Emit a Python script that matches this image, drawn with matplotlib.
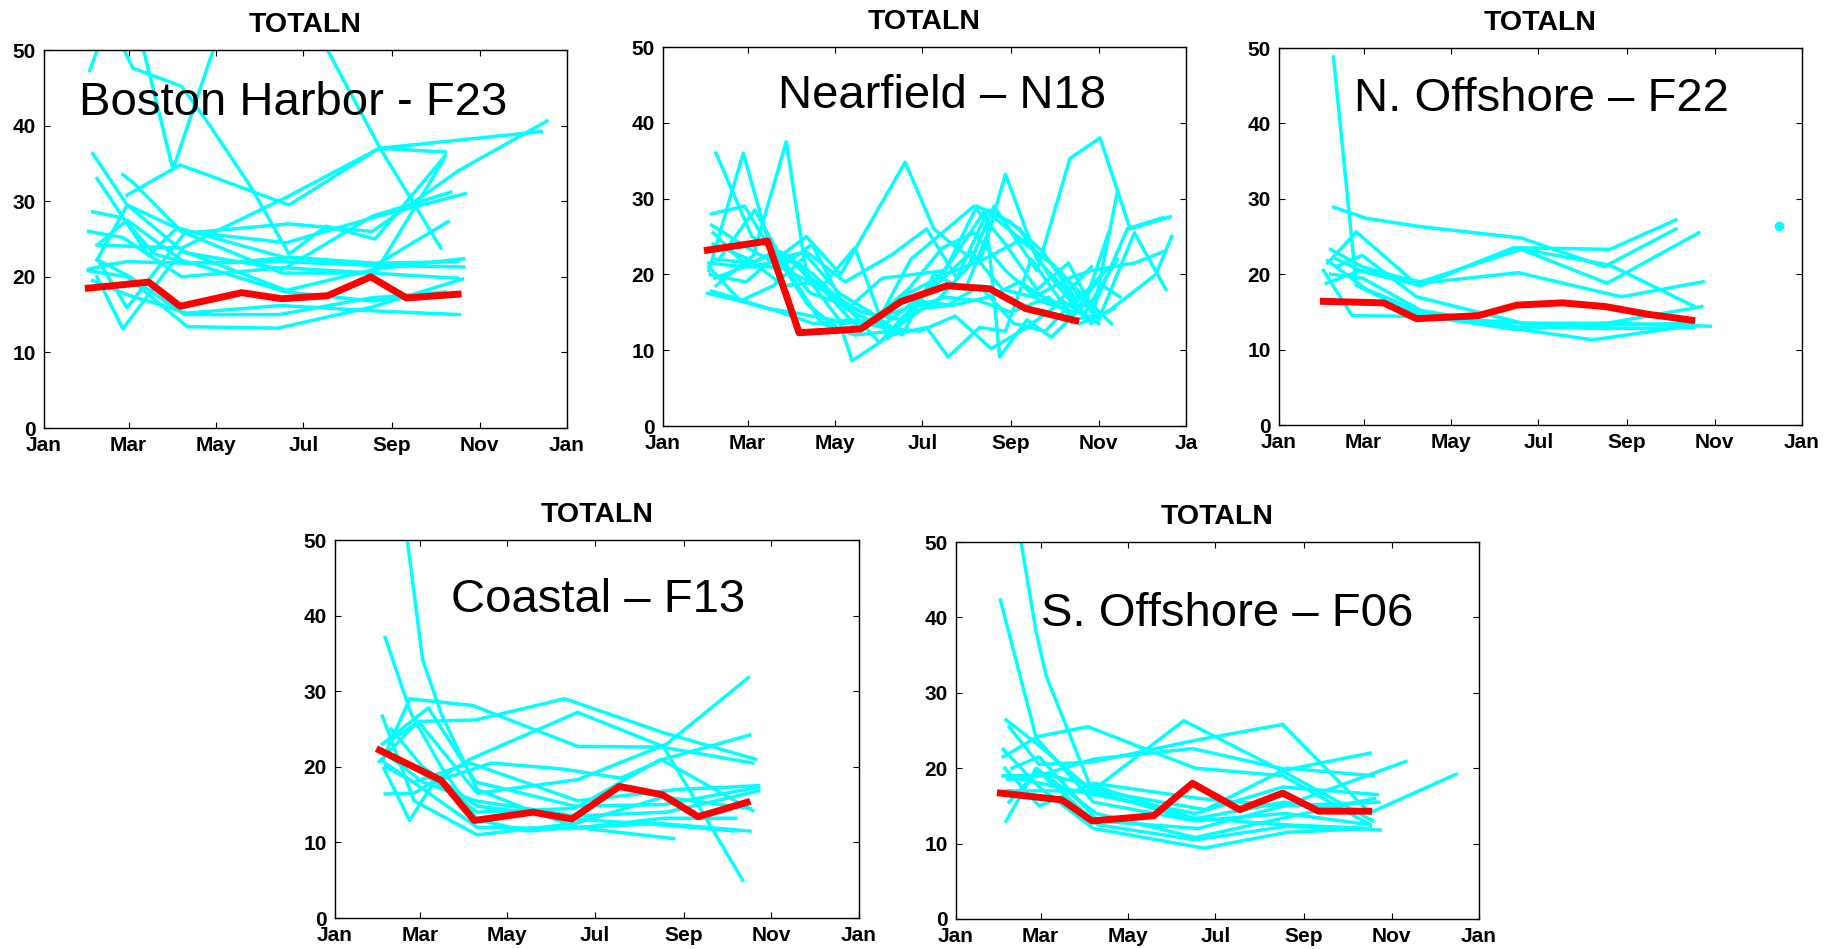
import matplotlib

matplotlib.use("Agg")
import matplotlib.pyplot as plt

plt.rcParams["font.family"] = ["Liberation Sans", "DejaVu Sans"]

MONTH_DAYS = [1, 60, 121, 182, 244, 305, 366]
MONTH_LABELS = ["Jan", "Mar", "May", "Jul", "Sep", "Nov", "Jan"]
Y_TICKS = [0, 10, 20, 30, 40, 50]

# ---- Boston Harbor - F23 ----
harbor_mean_days = [32, 74, 96, 139, 167, 199, 229, 254, 290]
harbor_mean = [18.5, 19.3, 16.1, 17.9, 17.1, 17.5, 20.0, 17.2, 17.7]
harbor_years = [
    ([33, 42, 52, 63, 97, 115, 145, 172, 198, 232, 281],
     [47.3, 52, 52, 47.6, 45.2, 40.5, 32.0, 23.0, 26.7, 25.0, 36.0]),
    ([64, 91, 128], [55, 34.2, 55]),
    ([196, 235, 278], [51, 37.2, 23.8]),
    ([59, 96, 172, 235, 281], [30.8, 34.8, 29.5, 37.0, 36.5]),
    ([38, 97, 170, 235, 348], [24.2, 23.8, 30.5, 37.0, 39.2]),
    ([38, 59, 101, 172, 230, 290, 352], [22.2, 29.5, 25.8, 27.0, 26.0, 34.0, 40.6]),
    ([35, 59, 99, 168, 230, 285], [36.3, 29.5, 23.2, 21.0, 28.0, 31.2]),
    ([38, 74, 94, 168, 233, 283], [33.0, 22.8, 26.5, 22.6, 21.6, 27.3]),
    ([35, 56, 78, 102, 140, 172, 232, 290], [28.6, 27.8, 23.0, 21.8, 22.0, 22.6, 21.8, 22.0]),
    ([32, 56, 97, 168, 230, 290], [26.0, 25.2, 20.0, 21.2, 20.5, 19.8]),
    ([32, 46, 59, 99, 168, 232, 294], [21.0, 21.6, 22.0, 21.8, 22.0, 21.5, 21.3]),
    ([38, 56, 97, 170, 232, 294], [20.0, 13.1, 23.5, 18.2, 21.0, 22.4]),
    ([40, 59, 100, 170, 234, 295], [21.8, 15.9, 26.0, 24.5, 28.0, 31.0]),
    ([38, 61, 99, 165, 229, 281], [22.3, 20.0, 15.0, 15.0, 17.2, 18.0]),
    ([32, 59, 101, 164, 230, 293], [20.8, 20.0, 13.4, 13.2, 16.0, 19.7]),
    ([35, 61, 101, 166, 230, 291], [19.5, 17.5, 15.2, 16.2, 15.5, 15.0]),
    ([40, 59, 97, 170, 230, 290], [24.5, 27.5, 22.2, 18.0, 16.8, 17.8]),
    ([56, 63, 97, 167, 232, 280], [33.5, 32.5, 26.0, 20.5, 20.5, 35.5]),
]

# ---- Nearfield - N18 ----
near_mean_days = [32, 74, 96, 139, 167, 199, 229, 254, 289]
near_mean = [23.2, 24.4, 12.3, 12.8, 16.4, 18.5, 18.1, 15.5, 13.9]
near_years = [
    ([38, 63, 96, 125, 150, 172, 198, 225, 250, 272, 300],
     [36.0, 25.0, 21.0, 16.0, 14.5, 17.5, 20.0, 22.0, 24.5, 21.5, 16.0]),
    ([33, 57, 78, 101, 128, 160, 185, 206, 228, 250, 270, 294, 318],
     [20.5, 36.0, 22.0, 23.0, 19.0, 22.5, 26.0, 19.5, 28.5, 26.0, 20.0, 14.5, 22.0]),
    ([38, 64, 87, 102, 122, 140, 168, 192, 214, 232, 262, 285, 306, 327, 355],
     [18.5, 22.5, 37.5, 19.0, 17.0, 15.0, 14.0, 16.5, 21.0, 29.0, 20.5, 35.3, 38.0, 26.0, 27.6]),
    ([35, 58, 80, 101, 125, 170, 190, 206, 222, 240, 262, 282, 300, 318],
     [28.0, 29.0, 22.0, 25.0, 20.0, 34.8, 26.0, 23.5, 21.5, 33.2, 22.0, 18.0, 13.5, 30.8]),
    ([33, 55, 74, 97, 124, 133, 160, 185, 200, 222, 240, 258, 288, 311, 345, 356],
     [21.0, 16.5, 15.5, 14.8, 13.8, 8.6, 12.0, 13.0, 9.1, 13.0, 12.5, 22.0, 14.0, 15.0, 20.0, 25.0]),
    ([36, 60, 90, 110, 135, 158, 180, 203, 226, 236, 255, 272, 295, 312],
     [25.5, 21.0, 22.0, 18.0, 23.5, 11.5, 16.5, 22.0, 28.5, 9.1, 14.0, 11.7, 16.0, 25.5]),
    ([32, 55, 78, 101, 124, 146, 168, 190, 212, 232, 255, 278, 300, 325, 350],
     [17.5, 16.5, 18.5, 22.5, 17.5, 15.0, 12.0, 20.0, 18.0, 27.5, 24.0, 20.5, 15.0, 26.0, 27.5]),
    ([35, 60, 84, 105, 128, 150, 174, 196, 218, 240, 262, 284, 305, 330, 352],
     [26.5, 23.5, 21.0, 24.0, 15.5, 13.5, 22.0, 25.5, 29.0, 24.0, 18.0, 21.5, 14.0, 25.5, 18.0]),
    ([38, 62, 83, 106, 130, 154, 176, 198, 220, 243, 266, 290, 310],
     [22.0, 21.5, 23.0, 20.0, 15.5, 19.5, 20.0, 20.5, 29.0, 27.0, 23.0, 16.5, 20.5]),
    ([34, 59, 80, 102, 126, 150, 172, 196, 218, 240, 264, 288, 304, 320],
     [20.0, 19.0, 22.5, 16.0, 12.5, 14.5, 18.0, 23.5, 25.5, 20.5, 16.5, 15.0, 19.0, 17.0]),
    ([36, 61, 85, 108, 132, 156, 178, 200, 222, 246, 268, 292, 314],
     [24.0, 22.0, 18.5, 19.0, 14.0, 13.5, 16.5, 16.0, 18.5, 13.5, 12.5, 17.5, 13.5]),
    ([33, 57, 79, 104, 128, 152, 174, 198, 222, 244, 270, 292, 316],
     [21.5, 21.0, 23.0, 17.5, 16.0, 11.0, 15.5, 17.0, 16.5, 15.0, 17.0, 13.5, 15.5]),
    ([37, 58, 82, 104, 126, 148, 170, 194, 216, 238, 260, 284, 300, 330, 350],
     [19.5, 21.0, 21.0, 19.0, 13.5, 14.0, 15.5, 19.0, 23.0, 18.0, 17.0, 19.5, 20.5, 21.5, 23.0]),
    ([35, 58, 83, 106, 130, 155, 180, 205, 230, 255, 280, 305],
     [17.8, 16.5, 15.0, 13.5, 14.0, 13.0, 12.5, 14.5, 10.2, 13.0, 16.5, 13.5]),
    ([40, 65, 90, 112, 135, 160, 182, 205, 228, 250, 275, 300],
     [22.0, 28.5, 20.0, 13.5, 12.0, 12.5, 15.5, 16.0, 17.0, 19.0, 16.0, 21.0]),
]

# ---- N. Offshore - F22 ----
north_mean_days = [32, 74, 97, 140, 167, 199, 229, 258, 289]
north_mean = [16.4, 16.2, 14.1, 14.5, 15.9, 16.2, 15.7, 14.7, 13.9]
north_years = [
    ([39, 55, 100, 165, 230, 296], [48.8, 18.5, 14.5, 12.7, 13.5, 15.7]),
    ([39, 62, 100, 170, 228, 278], [28.9, 27.4, 26.3, 24.8, 21.0, 26.0]),
    ([35, 55, 98, 165, 232, 278], [21.5, 25.6, 18.5, 23.5, 23.3, 27.2]),
    ([34, 58, 100, 170, 230, 294], [18.8, 20.5, 19.0, 23.3, 18.8, 25.5]),
    ([37, 59, 100, 168, 240, 297], [23.3, 21.0, 18.8, 20.2, 17.0, 19.0]),
    ([39, 60, 100, 165, 232, 290], [22.2, 20.3, 18.5, 23.5, 21.2, 15.8]),
    ([32, 52, 100, 171, 232, 302], [20.5, 14.5, 14.4, 13.5, 13.5, 13.1]),
    ([35, 62, 100, 165, 220, 290], [21.8, 18.0, 15.0, 12.8, 11.3, 13.2]),
    ([37, 59, 100, 168, 230, 290], [20.0, 19.5, 15.2, 13.0, 12.8, 12.9]),
    ([41, 59, 97, 171, 220, 290], [21.0, 22.5, 17.0, 13.5, 13.2, 13.5]),
]
north_dot_day = [350]
north_dot = [26.4]

# ---- Coastal - F13 ----
coastal_mean_days = [32, 75, 98, 139, 166, 199, 229, 254, 288]
coastal_mean = [22.2, 18.2, 12.9, 14.0, 13.1, 17.4, 16.3, 13.4, 15.3]
coastal_years = [
    ([50, 62, 75, 100, 140, 170, 228, 290], [52, 34.2, 27.0, 17.0, 14.0, 12.0, 12.5, 11.5]),
    ([36, 54, 75, 100, 135, 168, 237], [37.1, 27.0, 20.0, 13.0, 11.5, 12.0, 10.5]),
    ([34, 53, 97, 170, 230, 285], [20.8, 29.0, 28.1, 22.7, 22.6, 5.0]),
    ([38, 60, 99, 161, 230, 294], [23.3, 26.0, 26.2, 29.0, 24.5, 21.0]),
    ([36, 56, 95, 170, 232, 292], [16.4, 16.5, 21.0, 27.2, 22.5, 20.5]),
    ([32, 59, 100, 170, 232, 289], [20.7, 26.0, 16.5, 18.3, 23.0, 31.8]),
    ([35, 53, 70, 110, 160, 200, 230, 290], [19.8, 12.9, 18.0, 20.5, 19.7, 18.5, 21.0, 24.2]),
    ([34, 66, 99, 168, 230, 296], [23.0, 27.8, 18.0, 14.8, 15.0, 17.3]),
    ([38, 62, 99, 168, 232, 296], [21.5, 18.0, 15.5, 13.5, 14.0, 16.8]),
    ([34, 56, 100, 168, 230, 290], [26.7, 15.5, 11.0, 12.5, 16.0, 14.5]),
    ([36, 59, 100, 165, 230, 280], [20.5, 17.5, 12.0, 11.8, 13.2, 13.2]),
    ([34, 60, 100, 168, 228, 292], [22.0, 19.5, 14.0, 14.5, 21.0, 14.2]),
    ([40, 62, 100, 175, 230, 280], [25.0, 20.0, 14.8, 13.0, 12.3, 11.5]),
    ([36, 56, 95, 170, 240, 296], [20.0, 18.0, 20.5, 15.5, 17.0, 17.5]),
]

# ---- S. Offshore - F06 ----
south_mean_days = [32, 75, 96, 139, 166, 199, 229, 254, 289]
south_mean = [16.7, 15.8, 13.0, 13.7, 18.0, 14.5, 16.7, 14.3, 14.3]
south_years = [
    ([42, 57, 64, 96, 160, 230, 290], [55, 38, 32.2, 17.0, 13.5, 12.5, 12.0]),
    ([32, 57, 97, 168, 231, 290], [42.3, 24.0, 15.5, 13.0, 14.0, 12.5]),
    ([36, 59, 96, 160, 230, 292], [26.4, 23.0, 17.0, 26.3, 19.5, 13.0]),
    ([34, 58, 93, 168, 229, 290], [21.5, 24.2, 25.5, 20.0, 19.0, 12.5]),
    ([38, 59, 96, 168, 229, 290], [25.5, 20.5, 20.8, 23.7, 25.8, 14.0]),
    ([34, 59, 97, 166, 232, 290], [19.0, 19.0, 21.2, 22.6, 19.8, 22.0]),
    ([38, 57, 100, 168, 230, 290, 350], [15.5, 19.5, 17.5, 13.3, 15.5, 14.1, 19.2]),
    ([35, 59, 97, 170, 230, 315], [20.0, 15.0, 18.0, 16.0, 15.0, 20.9]),
    ([36, 57, 99, 168, 232, 293], [13.0, 20.0, 14.0, 10.8, 13.5, 16.0]),
    ([34, 59, 97, 174, 232, 290], [22.5, 17.5, 12.0, 9.4, 11.5, 12.0]),
    ([37, 62, 100, 168, 232, 297], [18.5, 19.0, 12.5, 10.5, 12.3, 11.8]),
    ([34, 60, 97, 168, 229, 295], [19.0, 18.0, 16.5, 14.0, 17.5, 16.5]),
    ([40, 59, 100, 170, 230, 296], [20.0, 21.5, 13.0, 12.0, 15.0, 15.5]),
    ([36, 60, 99, 175, 232, 292], [17.0, 17.0, 17.0, 14.5, 20.0, 19.0]),
]

FIG_W, FIG_H = 1843, 949
CYAN = "#00FFFF"
RED = "#FF0000"


def draw_panel(fig, box, station, label_xy, years, mean_days, mean_vals,
               last_label="Jan", dots=None):
    x0, y0, x1, y1 = box
    ax = fig.add_axes([x0 / FIG_W, 1 - y1 / FIG_H, (x1 - x0) / FIG_W, (y1 - y0) / FIG_H])
    for days, vals in years:
        ax.plot(days, vals, color=CYAN, linewidth=2.5)
    if dots is not None:
        ax.plot(dots[0], dots[1], "o", color=CYAN, markersize=6)
    ax.plot(mean_days, mean_vals, color=RED, linewidth=5)
    ax.set_xlim(1, 366)
    ax.set_ylim(0, 50)
    ax.set_xticks(MONTH_DAYS, MONTH_LABELS[:-1] + [last_label])
    ax.set_yticks(Y_TICKS)
    ax.tick_params(direction="in", top=True, right=True, length=4.3, width=0.8,
                   labelsize=15, pad=6)
    for lab in ax.get_xticklabels() + ax.get_yticklabels():
        lab.set_fontweight("bold")
    for spine in ax.spines.values():
        spine.set_linewidth(1.0)
    ax.set_title("TOTALN", fontsize=20.5, fontweight="bold", pad=13)
    ax.text(label_xy[0], label_xy[1], station, transform=ax.transAxes,
            ha="center", va="center", fontsize=34)
    return ax


fig = plt.figure(figsize=(FIG_W / 100, FIG_H / 100), dpi=100)
draw_panel(fig, (44, 50, 567, 428), "Boston Harbor - F23", (0.477, 0.859),
           harbor_years, harbor_mean_days, harbor_mean)
draw_panel(fig, (663, 47, 1186, 426), "Nearfield \u2013 N18", (0.534, 0.87),
           near_years, near_mean_days, near_mean, last_label="Ja")
draw_panel(fig, (1279, 48, 1802, 425), "N. Offshore \u2013 F22", (0.502, 0.866),
           north_years, north_mean_days, north_mean, dots=(north_dot_day, north_dot))
draw_panel(fig, (335, 540, 859, 918), "Coastal \u2013 F13", (0.502, 0.84),
           coastal_years, coastal_mean_days, coastal_mean)
draw_panel(fig, (956, 542, 1479, 919), "S. Offshore \u2013 F06", (0.519, 0.81),
           south_years, south_mean_days, south_mean)

fig.savefig("out.png", dpi=100)
plt.close(fig)
